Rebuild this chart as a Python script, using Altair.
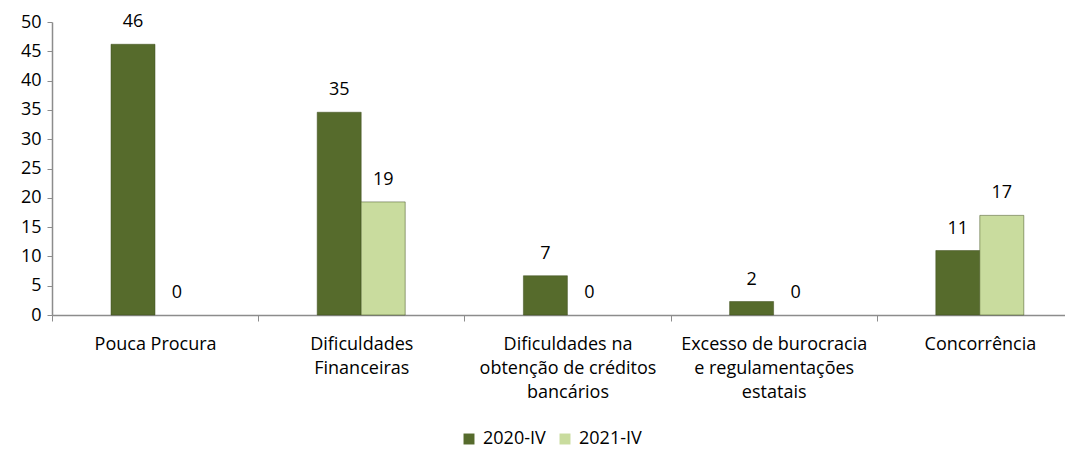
import altair as alt
import pandas as pd

categories = ["Pouca Procura", "Dificuldades|Financeiras", "Dificuldades na|obtenção de créditos|bancários",
              "Excesso de burocracia|e regulamentações|estatais", "Concorrência"]
series = ["2020-IV", "2021-IV"]
values_2020 = [46.2, 34.6, 6.7, 2.3, 11.0]
values_2021 = [0.0, 19.3, 0.0, 0.0, 17.0]
colors = ["#566b2c", "#c9dc9e"]
y_ticks = [0, 5, 10, 15, 20, 25, 30, 35, 40, 45, 50]

rows = []
for c, v in zip(categories, values_2020):
    rows.append({"cat": c, "series": series[0], "value": v})
for c, v in zip(categories, values_2021):
    rows.append({"cat": c, "series": series[1], "value": v})
df = pd.DataFrame(rows)

FONT = "Open Sans"
FS = 18
W = 1013
H = 293

x = alt.X("cat:N", sort=categories, title=None,
          scale=alt.Scale(range=[0, 1031], paddingInner=0, paddingOuter=0),
          axis=alt.Axis(labelExpr="split(datum.label, '|')", labelAngle=0, labelFontSize=FS,
                        labelFont=FONT, labelColor="#000000", labelLineHeight=24,
                        labelPadding=14, labelBaseline="top", tickBand="extent", tickSize=6,
                        tickColor="#8c8c8c", domainColor="#8c8c8c", domainWidth=1.5,
                        labelLimit=300))
xoff = alt.XOffset("series:N", sort=series,
                   scale=alt.Scale(range=[59, 147], paddingInner=0, paddingOuter=0))
y = alt.Y("value:Q", title=None,
          scale=alt.Scale(domain=[0, 50], nice=False),
          axis=alt.Axis(values=y_ticks, grid=False, labelFontSize=FS, labelFont=FONT,
                        labelColor="#000000", tickSize=5, tickColor="#8c8c8c",
                        domainColor="#8c8c8c", domainWidth=1.5, labelPadding=6))
color = alt.Color("series:N", sort=series,
                  scale=alt.Scale(domain=series, range=colors),
                  legend=alt.Legend(title=None, orient="none", legendX=408, legendY=408,
                                    direction="horizontal", symbolType="square",
                                    symbolSize=120, symbolStrokeWidth=0, labelFontSize=FS,
                                    labelFont=FONT, labelColor="#000000", columnPadding=10,
                                    labelOffset=5))

base = alt.Chart(df)
bars = base.mark_bar(strokeWidth=1, stroke="#3d4d1c", strokeOpacity=0.5).encode(
    x=x, xOffset=xoff, y=y, color=color).transform_filter("datum.value > 0")
labels = base.mark_text(baseline="middle", dy=-22, fontSize=FS, font=FONT, color="#000000").encode(
    x=x, xOffset=xoff, y=y, text=alt.Text("value:Q", format=".0f"))

chart = (bars + labels).properties(
    width=W, height=H,
    autosize=alt.AutoSizeParams(type="none"),
    padding={"left": 44, "top": 14, "right": 0, "bottom": 137},
).configure(background="white").configure_view(strokeWidth=0)

chart.save("out.html", embed_options={"renderer": "svg", "actions": False})
